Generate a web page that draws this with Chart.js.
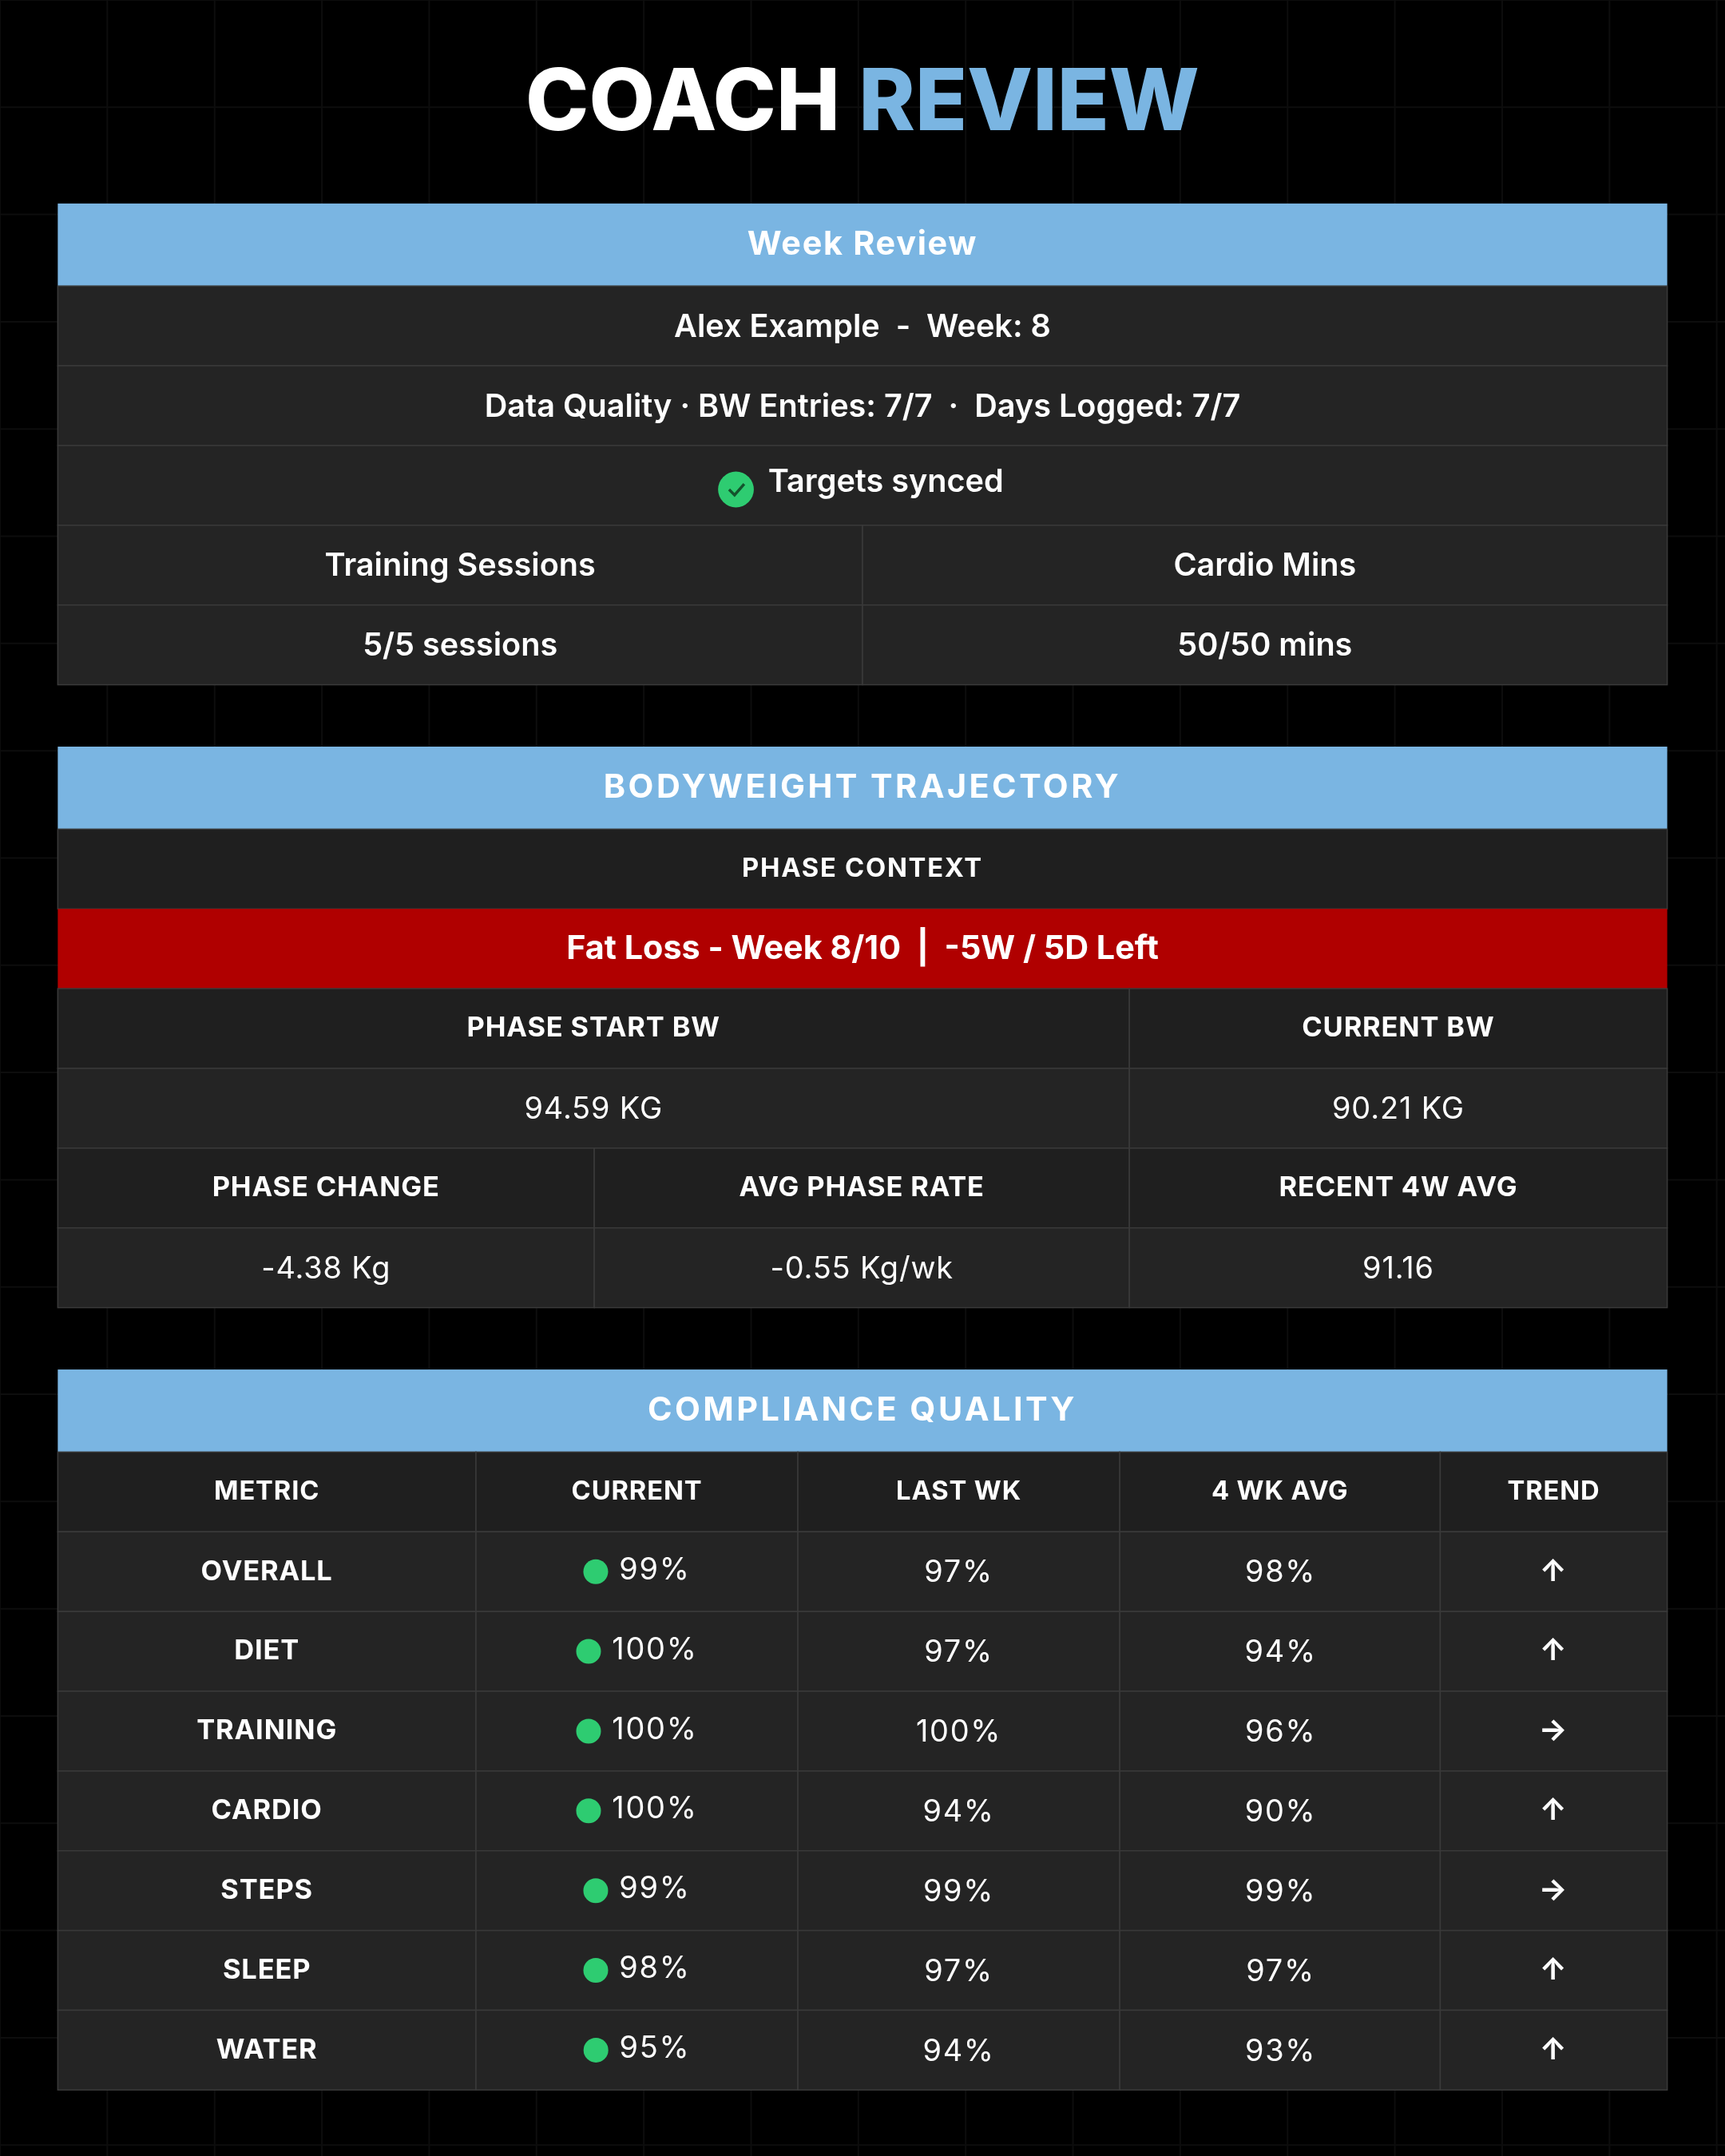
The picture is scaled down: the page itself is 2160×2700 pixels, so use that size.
<!DOCTYPE html>
<html><head><meta charset="utf-8">
<script src="https://cdn.jsdelivr.net/npm/chart.js@4.4.0/dist/chart.umd.min.js"></script>
<style>html,body{margin:0;padding:0;background:#000;}#c{display:block;}</style>
</head><body>
<div style="width:2160px;height:2700px"><canvas id="c"></canvas></div>
<script>
const title = ["COACH ", "REVIEW"];
const weekRows = ["Alex Example  -  Week: 8", "Data Quality · BW Entries: 7/7  ·  Days Logged: 7/7", "Targets synced"];
const sessionLabels = ["Training Sessions", "Cardio Mins"];
const sessionValues = ["5/5 sessions", "50/50 mins"];
const phaseLabel = "Fat Loss - Week 8/10  |  -5W / 5D Left";
const bwLabels = ["PHASE START BW", "CURRENT BW"];
const bwValues = ["94.59 KG", "90.21 KG"];
const changeLabels = ["PHASE CHANGE", "AVG PHASE RATE", "RECENT 4W AVG"];
const changeValues = ["-4.38 Kg", "-0.55 Kg/wk", "91.16"];
const compHeaders = ["METRIC", "CURRENT", "LAST WK", "4 WK AVG", "TREND"];
const metrics = ["OVERALL", "DIET", "TRAINING", "CARDIO", "STEPS", "SLEEP", "WATER"];
const currentPct = [99, 100, 100, 100, 99, 98, 95];
const lastWkPct = [97, 97, 100, 94, 99, 97, 94];
const avg4Pct = [98, 94, 96, 90, 99, 97, 93];
const trend = ["up", "up", "flat", "up", "flat", "up", "up"];

const BLUE = "#7ab5e2", ROW = "#242424", ROW2 = "#1f1f1f", LINE = "#3a3a3a";

const tablePlugin = {
  id: "tables",
  afterDraw(chart) {
    const ctx = chart.ctx, xs = chart.scales.x, ys = chart.scales.y;
    const X = v => xs.getPixelForValue(v), Y = v => ys.getPixelForValue(v);
    const s = (X(1254) - X(0)) / 1254;
    ctx.save();
    // faint grid
    ctx.strokeStyle = "#0d0d0d"; ctx.lineWidth = 2;
    for (let g = 0; g <= 1254; g += 78) { ctx.beginPath(); ctx.moveTo(X(g), Y(0)); ctx.lineTo(X(g), Y(1568)); ctx.stroke(); }
    for (let g = 0; g <= 1568; g += 78) { ctx.beginPath(); ctx.moveTo(X(0), Y(g)); ctx.lineTo(X(1254), Y(g)); ctx.stroke(); }
    function rect(x0, y0, x1, y1, fill) {
      ctx.fillStyle = fill; ctx.fillRect(X(x0), Y(y0), X(x1) - X(x0), Y(y1) - Y(y0));
      ctx.strokeStyle = LINE; ctx.lineWidth = 1.5;
      ctx.strokeRect(X(x0), Y(y0), X(x1) - X(x0), Y(y1) - Y(y0));
    }
    function font(size, weight, sp) { ctx.font = `${weight} ${size * s}px Inter, "DejaVu Sans", sans-serif`; ctx.letterSpacing = (sp || 0) * s + "px"; }
    function text(t, cx, cy, size, weight, color, sp) {
      font(size, weight, sp); ctx.fillStyle = color; ctx.textAlign = "center"; ctx.textBaseline = "middle";
      ctx.fillText(t, X(cx), Y(cy));
    }
    function header(t, y0, sp) { ctx.fillStyle = BLUE; ctx.fillRect(X(42), Y(y0), X(1212) - X(42), Y(y0 + 60) - Y(y0)); text(t, 627, y0 + 30, 24, 700, "#fff", sp); }
    // title
    font(62, 800, 0); ctx.textBaseline = "middle"; ctx.textAlign = "left";
    const w1 = ctx.measureText(title[0]).width, w2 = ctx.measureText(title[1]).width;
    let sx = X(627) - (w1 + w2) / 2;
    ctx.fillStyle = "#fff"; ctx.fillText(title[0], sx, Y(76));
    ctx.fillStyle = BLUE; ctx.fillText(title[1], sx + w1, Y(76));

    // table 1
    header("Week Review", 148, 1);
    for (let i = 0; i < 3; i++) rect(42, 208 + i * 58, 1212, 266 + i * 58, ROW);
    text(weekRows[0], 627, 238, 23, 600, "#fff");
    text(weekRows[1], 627, 296, 23, 600, "#fff");
    text(weekRows[2], 644, 351, 23, 600, "#fff");
    ctx.fillStyle = "#2ecc71"; ctx.beginPath(); ctx.arc(X(535), Y(356), 13 * s, 0, Math.PI * 2); ctx.fill();
    ctx.strokeStyle = "#14532d"; ctx.lineWidth = 2 * s; ctx.beginPath();
    ctx.moveTo(X(530), Y(356)); ctx.lineTo(X(534), Y(360)); ctx.lineTo(X(541), Y(352)); ctx.stroke();
    [[42, 627], [627, 1212]].forEach((c, j) => {
      rect(c[0], 382, c[1], 440, ROW); rect(c[0], 440, c[1], 498, ROW);
      text(sessionLabels[j], (c[0] + c[1]) / 2, 412, 23, 600, "#fff");
      text(sessionValues[j], (c[0] + c[1]) / 2, 470, 23, 600, "#fff");
    });

    // table 2
    header("BODYWEIGHT TRAJECTORY", 543, 2);
    rect(42, 603, 1212, 661, ROW2); text("PHASE CONTEXT", 627, 632, 19, 700, "#fff", 1);
    ctx.fillStyle = "#b00000"; ctx.fillRect(X(42), Y(661), X(1212) - X(42), Y(719) - Y(661));
    text(phaseLabel, 627, 690, 24, 700, "#fff");
    [[42, 821], [821, 1212]].forEach((c, j) => {
      rect(c[0], 719, c[1], 777, ROW2); rect(c[0], 777, c[1], 835, ROW);
      text(bwLabels[j], (c[0] + c[1]) / 2, 748, 20, 700, "#fff", 0.5);
      text(bwValues[j], (c[0] + c[1]) / 2, 807, 22, 400, "#fff", 0.5);
    });
    [[42, 432], [432, 821], [821, 1212]].forEach((c, j) => {
      rect(c[0], 835, c[1], 893, ROW2); rect(c[0], 893, c[1], 951, ROW);
      text(changeLabels[j], (c[0] + c[1]) / 2, 864, 20, 700, "#fff", 0.5);
      text(changeValues[j], (c[0] + c[1]) / 2, 923, 22, 400, "#fff", 0.5);
    });

    // table 3
    header("COMPLIANCE QUALITY", 996, 2);
    const cols = [42, 346, 580, 814, 1047, 1212];
    for (let j = 0; j < 5; j++) {
      const cx = (cols[j] + cols[j + 1]) / 2;
      rect(cols[j], 1056, cols[j + 1], 1114, ROW2);
      text(compHeaders[j], cx, 1085, 19, 700, "#fff", 0.5);
    }
    metrics.forEach((m, i) => {
      const y0 = 1114 + i * 58, cy = y0 + 29;
      for (let j = 0; j < 5; j++) rect(cols[j], y0, cols[j + 1], y0 + 58, ROW);
      text(m, 194, cy, 20, 700, "#fff", 0.5);
      // current with dot
      const t = currentPct[i] + "%";
      font(22, 400, 1); const tw = ctx.measureText(t).width / s;
      const total = 18 + 8 + tw, left = 463 - total / 2;
      ctx.fillStyle = "#2ecc71"; ctx.beginPath(); ctx.arc(X(left + 9), Y(cy), 9 * s, 0, Math.PI * 2); ctx.fill();
      ctx.fillStyle = "#fff"; ctx.textAlign = "left"; ctx.textBaseline = "middle"; ctx.fillText(t, X(left + 26), Y(cy - 1));
      text(lastWkPct[i] + "%", 697, cy + 1, 22, 400, "#fff", 1);
      text(avg4Pct[i] + "%", 931, cy + 1, 22, 400, "#fff", 1);
      text(trend[i] === "up" ? "↑" : "→", 1129, cy, 22, 700, "#fff");
    });
    ctx.restore();
  }
};

new Chart(document.getElementById("c"), {
  type: "scatter",
  data: { datasets: [{ data: [], pointRadius: 0 }] },
  options: {
    responsive: true, maintainAspectRatio: false, animation: false, devicePixelRatio: 1,
    layout: { padding: 0 },
    plugins: { legend: { display: false }, tooltip: { enabled: false } },
    scales: {
      x: { type: "linear", min: 0, max: 1254, display: false },
      y: { type: "linear", min: 0, max: 1568, reverse: true, display: false }
    }
  },
  plugins: [tablePlugin]
});
</script>
</body></html>
